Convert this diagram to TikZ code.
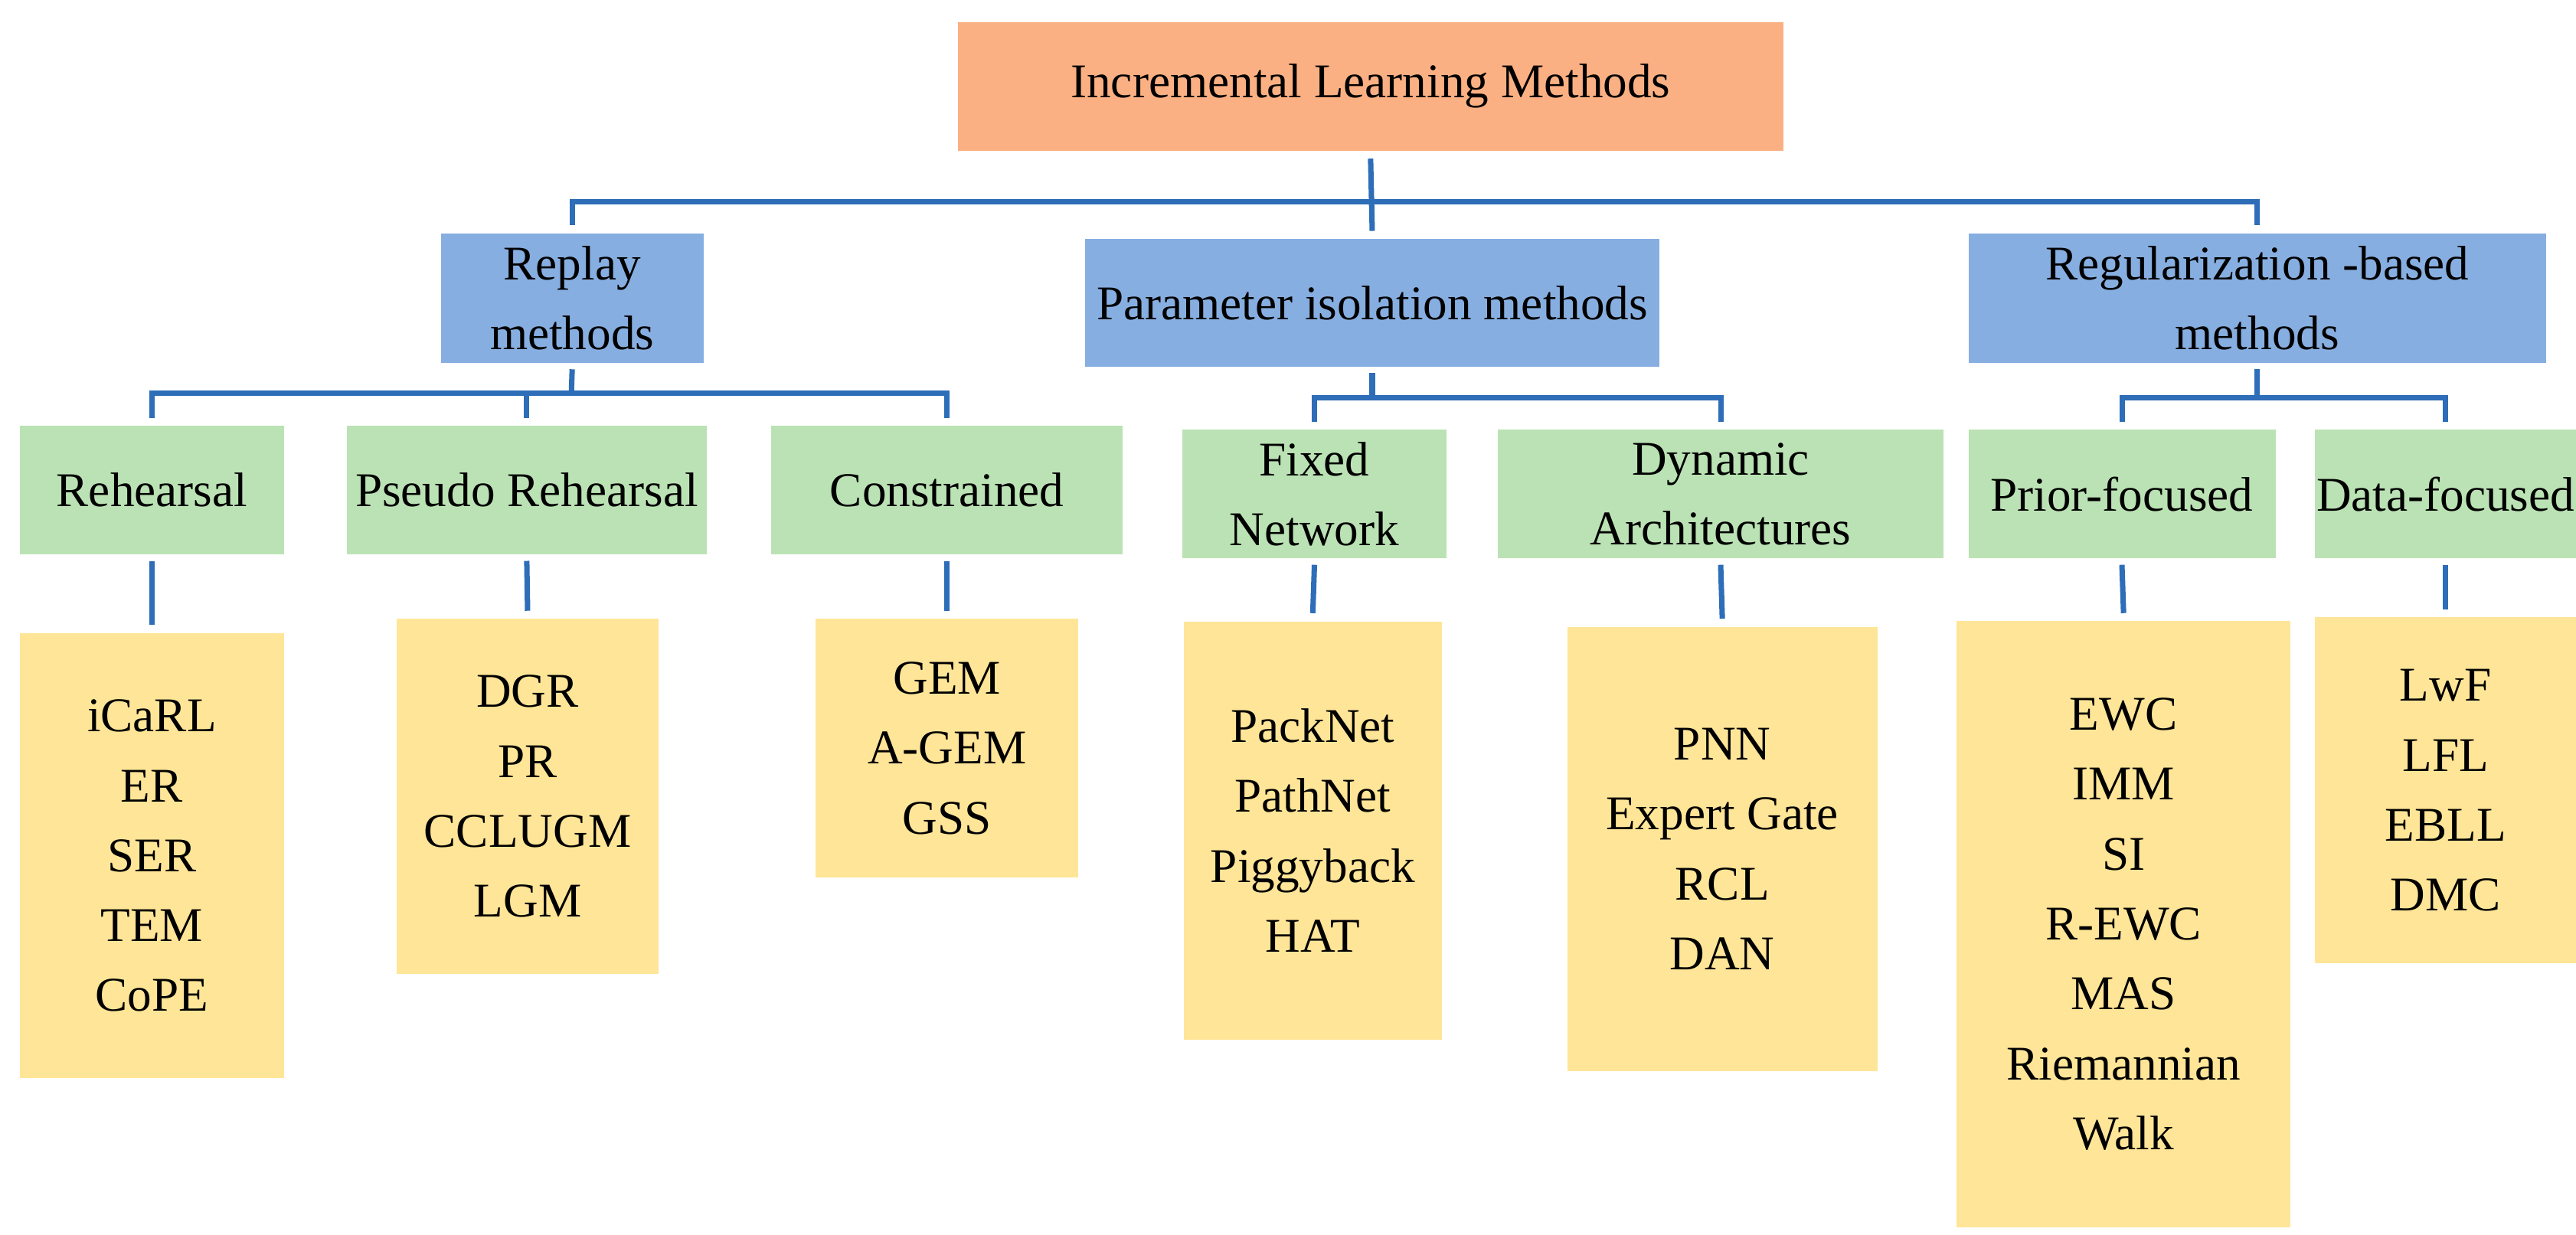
\documentclass[tikz,border=0pt]{standalone}
\usepackage{fontspec}
\setmainfont{Liberation Serif}
\begin{document}
\begin{tikzpicture}[x=0.02157cm,y=-0.01035cm,
  box/.style={inner sep=0pt,align=center,font=\fontsize{18}{26}\selectfont},
  org/.style={box,fill=orange1},
  blu/.style={box,fill=blue1},
  grn/.style={box,fill=green1,minimum height=1.677cm},
  yel/.style={box,fill=yellow1},
  conn/.style={draw=line1,line width=2pt}]
\definecolor{orange1}{HTML}{FBB083}
\definecolor{blue1}{HTML}{87AEE0}
\definecolor{green1}{HTML}{BBE2B4}
\definecolor{yellow1}{HTML}{FFE597}
\definecolor{line1}{HTML}{2E6DB8}
\useasboundingbox[fill=white] (0,0) rectangle (1560,1560);
\node[org,minimum width=10.785cm,minimum height=1.677cm] (top) at (830,109) {Incremental Learning Methods};
\node[blu,minimum width=3.43cm,minimum height=1.687cm] (replay) at (346.5,376.5) {Replay\\methods};
\node[blu,minimum width=7.506cm,minimum height=1.666cm] (param) at (831,382.5) {Parameter isolation methods};
\node[blu,minimum width=7.55cm,minimum height=1.687cm] (reg) at (1367,376.5) {Regularization -based\\methods};
\node[grn,minimum width=3.451cm] (reh) at (92,619) {Rehearsal};
\node[grn,minimum width=4.702cm] (pse) at (319,619) {Pseudo Rehearsal};
\node[grn,minimum width=4.594cm] (con) at (573.5,619) {Constrained};
\node[grn,minimum width=3.451cm] (fix) at (796,624) {Fixed\\Network};
\node[grn,minimum width=5.824cm] (dyn) at (1042,624) {Dynamic\\Architectures};
\node[grn,minimum width=4.012cm] (pri) at (1285,624) {Prior-focused};
\node[grn,minimum width=3.408cm] (dat) at (1481,624) {Data-focused};
\node[yel,minimum width=3.451cm,minimum height=5.817cm] (y1) at (92,1081) {iCaRL\\ER\\SER\\TEM\\CoPE};
\node[yel,minimum width=3.43cm,minimum height=4.637cm] (y2) at (319.5,1006) {DGR\\PR\\CCLUGM\\LGM};
\node[yel,minimum width=3.43cm,minimum height=3.374cm] (y3) at (573.5,945) {GEM\\A-GEM\\GSS};
\node[yel,minimum width=3.365cm,minimum height=5.465cm] (y4) at (795,1049) {PackNet\\PathNet\\Piggyback\\HAT};
\node[yel,minimum width=4.055cm,minimum height=5.806cm] (y5) at (1043,1072.5) {PNN\\Expert Gate\\RCL\\DAN};
\node[yel,minimum width=4.357cm,minimum height=7.918cm] (y6) at (1286,1167.5) {EWC\\IMM\\SI\\R-EWC\\MAS\\Riemannian\\Walk};
\node[yel,minimum width=3.408cm,minimum height=4.523cm] (y7) at (1481,998.5) {LwF\\LFL\\EBLL\\DMC};
\coordinate (b0) at (830,255);
\coordinate (b1) at (346,497);
\coordinate (b2) at (831,502);
\coordinate (b3) at (1367,502);
\draw[conn] ([yshift=-0.1cm]top.south) -- ([yshift=0.1cm]param.north);
\draw[conn] ([yshift=0.1cm]replay.north) |- (b0) -| ([yshift=0.1cm]reg.north);
\draw[conn] ([yshift=-0.08cm]replay.south) -- (b1);
\draw[conn] ([yshift=0.1cm]reh.north) |- (b1) -| ([yshift=0.1cm]con.north);
\draw[conn] (pse.north |- b1) -- ([yshift=0.1cm]pse.north);
\draw[conn] ([yshift=-0.08cm]param.south) -- (b2);
\draw[conn] ([yshift=0.1cm]fix.north) |- (b2) -| ([yshift=0.1cm]dyn.north);
\draw[conn] ([yshift=-0.08cm]reg.south) -- (b3);
\draw[conn] ([yshift=0.1cm]pri.north) |- (b3) -| ([yshift=0.1cm]dat.north);
\draw[conn] ([yshift=-0.08cm]reh.south) -- ([yshift=0.1cm]y1.north);
\draw[conn] ([yshift=-0.08cm]pse.south) -- ([yshift=0.1cm]y2.north);
\draw[conn] ([yshift=-0.08cm]con.south) -- ([yshift=0.1cm]y3.north);
\draw[conn] ([yshift=-0.08cm]fix.south) -- ([yshift=0.1cm]y4.north);
\draw[conn] ([yshift=-0.08cm]dyn.south) -- ([yshift=0.1cm]y5.north);
\draw[conn] ([yshift=-0.08cm]pri.south) -- ([yshift=0.1cm]y6.north);
\draw[conn] ([yshift=-0.08cm]dat.south) -- ([yshift=0.1cm]y7.north);
\end{tikzpicture}
\end{document}
